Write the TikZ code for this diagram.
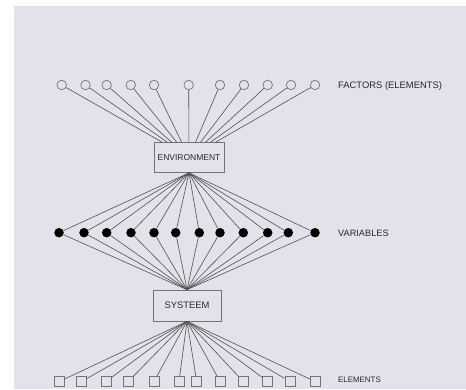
\documentclass[tikz,border=0pt]{standalone}
\usepackage{fontspec}
\setmainfont{Liberation Sans}
\definecolor{bg}{RGB}{228,225,235}
\definecolor{linec}{RGB}{80,80,80}
\definecolor{shapec}{RGB}{115,115,115}
\definecolor{txt}{RGB}{40,40,40}
\begin{document}
\begin{tikzpicture}[x=1pt,y=-1pt,
 conn/.style={draw=linec,line width=0.6pt},
 fac/.style={circle,draw=shapec,line width=0.7pt,fill=bg,inner sep=0pt,minimum size=9.5pt},
 var/.style={circle,fill=black,inner sep=0pt,minimum size=9.5pt},
 elem/.style={rectangle,draw=shapec,line width=0.7pt,fill=bg,inner sep=0pt,minimum size=10pt},
 box/.style={rectangle,draw=shapec,line width=0.7pt,fill=bg,inner sep=0pt,text=txt},
 lab/.style={anchor=base west,text=txt,inner sep=0pt}]
\fill[white] (0,0) rectangle (466,389);
\fill[bg] (14,6) rectangle (466,389);
\useasboundingbox (0,0) rectangle (466,389);
% boxes
\node[box,minimum width=70pt,minimum height=30pt,font=\fontsize{8.5}{10}\selectfont] (env) at (189,157.5) {ENVIRONMENT};
\node[box,minimum width=68pt,minimum height=31pt,font=\fontsize{9.4}{11}\selectfont] (sys) at (187,305.5) {SYSTEEM};
% factors
\foreach \x [count=\i] in {61.7,85.5,106.7,130.8,154,188.7,220,244,267.7,291,315}
  \node[fac] (c\i) at (\x,85) {};
% variables
\foreach \x [count=\i] in {59,84,106.7,131,154,175.7,199.3,220,243.3,267.7,288.3,315}
  \node[var] (v\i) at (\x,232.7) {};
% elements
\foreach \x [count=\i] in {59.3,81.7,106,128.3,154,179,196.7,220,243.3,267.7,290,315}
  \node[elem] (s\i) at (\x,381.5) {};
% connectors
\foreach \i in {1,...,11} \draw[conn] (c\i) -- (env);
\foreach \i in {1,...,12} {
  \draw[conn] (v\i) -- (env.south);
  \draw[conn] (v\i) -- (sys.north);
  \draw[conn] (s\i) -- (sys.south);
}
% labels
\node[lab,font=\fontsize{9.4}{11}\selectfont] (lf) at (338,88.3) {FACTORS (ELEMENTS)};
\node[lab,font=\fontsize{9.2}{11}\selectfont] (lv) at (338,236) {VARIABLES};
\node[lab,font=\fontsize{7.9}{9}\selectfont] (le) at (338,382.3) {ELEMENTS};
\end{tikzpicture}
\end{document}
